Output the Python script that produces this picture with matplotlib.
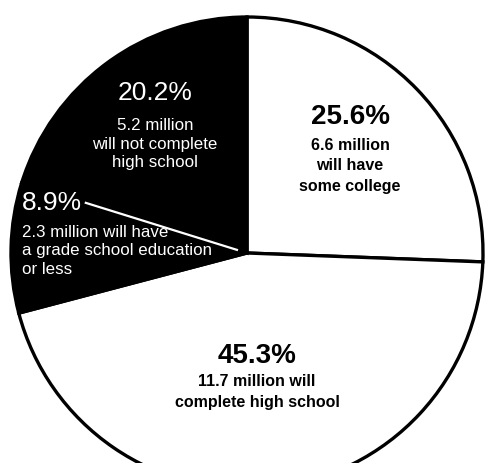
import matplotlib
matplotlib.use("Agg")
import matplotlib.pyplot as plt
import numpy as np

# Data
shares = [25.6, 45.3, 8.9, 20.2]
pct_labels = ["25.6%", "45.3%", "8.9%", "20.2%"]
desc_labels = [
    "6.6 million\nwill have\nsome college",
    "11.7 million will\ncomplete high school",
    "2.3 million will have\na grade school education\nor less",
    "5.2 million\nwill not complete\nhigh school",
]
slice_colors = ["white", "white", "black", "black"]

W, H = 490, 463
fig = plt.figure(figsize=(W / 100, H / 100), dpi=100)
ax = fig.add_axes([0, 0, 1, 1])

cx, cy, R = 247, H - 253, 236
wedges, _ = ax.pie(shares, startangle=90, counterclock=False,
                   colors=slice_colors, center=(cx, cy), radius=R,
                   wedgeprops=dict(edgecolor="black", linewidth=2.4),
                   frame=True)
ax.set_xlim(0, W)
ax.set_ylim(0, H)
ax.set_aspect("auto")
ax.axis("off")

# white divider between the two black slices
ang = np.deg2rad(90 - 360 * sum(shares[:3]) / 100)
ax.plot([cx + 0.04 * R * np.cos(ang), cx + 0.72 * R * np.cos(ang)],
        [cy + 0.04 * R * np.sin(ang), cy + 0.72 * R * np.sin(ang)],
        color="white", lw=1.6, solid_capstyle="butt")

bold = dict(family="Liberation Sans", fontweight="bold", color="black")
reg = dict(family="Liberation Sans", color="white")

# 25.6%
ax.text(350, H - 117, pct_labels[0], ha="center", va="center", fontsize=20, **bold)
ax.text(350, H - 166, desc_labels[0], ha="center", va="center", fontsize=11.5,
        linespacing=1.45, **bold)
# 45.3%
ax.text(257, H - 356, pct_labels[1], ha="center", va="center", fontsize=20, **bold)
ax.text(257, H - 392, desc_labels[1], ha="center", va="center", fontsize=11.5,
        linespacing=1.45, **bold)
# 8.9%
ax.text(22, H - 203, pct_labels[2], ha="left", va="center", fontsize=19, **reg)
ax.text(22, H - 251, desc_labels[2], ha="left", va="center", fontsize=12.2,
        linespacing=1.3, **reg)
# 20.2%
ax.text(155, H - 93, pct_labels[3], ha="center", va="center", fontsize=19, **reg)
ax.text(155, H - 144, desc_labels[3], ha="center", va="center", fontsize=12.2,
        linespacing=1.3, **reg)

fig.savefig("out.png", dpi=100, facecolor="white")
